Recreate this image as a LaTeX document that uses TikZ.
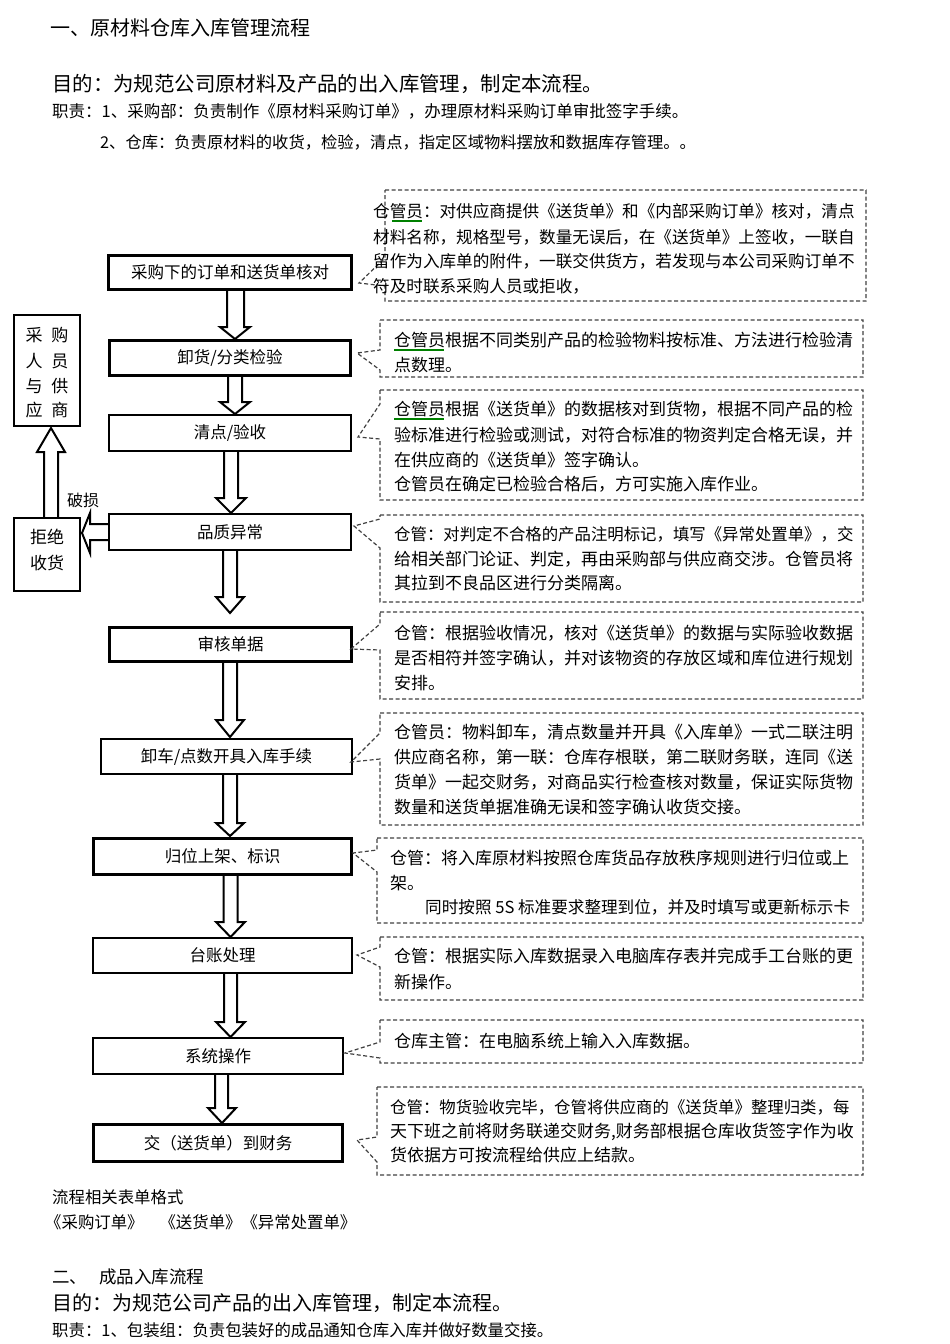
\documentclass[tikz,border=0pt]{standalone}
\usepackage{fontspec}
\setmainfont{Noto Sans CJK SC}
\tikzset{
  fbox/.style={draw, line width=#1, inner sep=0pt, font=\fontsize{16.5}{20}\selectfont},
  harrow/.style={draw, line width=2pt, line join=miter},
  dbox/.style={draw=black!75, line width=1.2pt, dash pattern=on 4pt off 2.5pt},
  txt/.style={anchor=base west, inner sep=0pt, font=\fontsize{#1}{#1}\selectfont, yshift={-0.38*#1}},
  ctxt/.style={anchor=base, inner sep=0pt, font=\fontsize{#1}{#1}\selectfont, yshift={-0.38*#1}},
  wavy/.style={draw=green!50!black, line width=1.2pt}
}
\newcommand{\callout}[8]{%
  \coordinate (#1) at (#7);
  \draw[dbox] (#2,#4) -- (#3,#4) -- (#3,#5) -- (#2,#5) -- (#2,#8) -- (#1) -- (#2,#6) -- cycle;}
\begin{document}
\begin{tikzpicture}[x=1pt,y=-1pt]
\useasboundingbox (0,0) rectangle (950,1344);

% headings
\node[txt=20] (h1) at (50,28) {一、原材料仓库入库管理流程};
\node[txt=20.4] (h2) at (52,84) {目的：为规范公司原材料及产品的出入库管理，制定本流程。};
\node[txt=16.5] (h3) at (52,111) {职责：1、采购部：负责制作《原材料采购订单》，办理原材料采购订单审批签字手续。};
\node[txt=16.3] (h4) at (100,142) {2、仓库：负责原材料的收货，检验，清点，指定区域物料摆放和数据库存管理。。};

% flow boxes
\node[fbox=2.8pt, minimum width=243pt, minimum height=34pt] (b1) at (230,272.5) {采购下的订单和送货单核对};
\node[fbox=2.8pt, minimum width=241pt, minimum height=35pt] (b2) at (230,358) {卸货/分类检验};
\node[fbox=2pt, minimum width=242pt, minimum height=36pt] (b3) at (230,433) {清点/验收};
\node[fbox=2.4pt, minimum width=241.6pt, minimum height=35.6pt] (b4) at (230,532) {品质异常};
\node[fbox=2.8pt, minimum width=242pt, minimum height=34pt] (b5) at (230.5,644.5) {审核单据};
\node[fbox=2pt, minimum width=251pt, minimum height=35pt] (b6) at (226.5,756.5) {卸车/点数开具入库手续};
\node[fbox=2.8pt, minimum width=258pt, minimum height=36pt] (b7) at (222.5,856.5) {归位上架、标识};
\node[fbox=2pt, minimum width=259pt, minimum height=35pt] (b8) at (222.5,955.5) {台账处理};
\node[fbox=2.4pt, minimum width=249.6pt, minimum height=35.6pt] (b9) at (218,1056) {系统操作};
\node[fbox=2.8pt, minimum width=249pt, minimum height=37pt] (b10) at (218,1143) {交（送货单）到财务};

% left boxes
\node[draw, line width=2pt, minimum width=66pt, minimum height=111pt, inner sep=0pt] (pur) at (47,370.5) {};
\node[ctxt=17] (pur1) at (47,335) {采\hspace{9pt}购};
\node[ctxt=17] (pur2) at (47,361) {人\hspace{9pt}员};
\node[ctxt=17] (pur3) at (47,386) {与\hspace{9pt}供};
\node[ctxt=17] (pur4) at (47,410) {应\hspace{9pt}商};
\node[draw, line width=2pt, minimum width=66pt, minimum height=73pt, inner sep=0pt] (rej) at (47,554.5) {};
\node[ctxt=17] (rej1) at (47,537) {拒绝};
\node[ctxt=17] (rej2) at (47,563) {收货};
\node[ctxt=16] (po) at (83,500) {破损};

% hollow arrows
\draw[harrow] (227,0 |- b1.south) -- (227,327) -- (220,327) -- (235,339) -- (250,327) -- (244,327) -- (244,0 |- b1.south);
\draw[harrow] (228,0 |- b2.south) -- (228,402) -- (220,402) -- (235,414) -- (250,402) -- (242,402) -- (242,0 |- b2.south);
\draw[harrow] (224,0 |- b3.south) -- (224,498) -- (216,498) -- (231,513) -- (246,498) -- (238,498) -- (238,0 |- b3.south);
\draw[harrow] (223,0 |- b4.south) -- (223,597) -- (216,597) -- (230,613) -- (244,597) -- (237,597) -- (237,0 |- b4.south);
\draw[harrow] (223,0 |- b5.south) -- (223,720) -- (216,720) -- (230,737) -- (244,720) -- (237,720) -- (237,0 |- b5.south);
\draw[harrow] (223,0 |- b6.south) -- (223,823) -- (216,823) -- (230,836) -- (244,823) -- (237,823) -- (237,0 |- b6.south);
\draw[harrow] (223.5,0 |- b7.south) -- (223.5,922) -- (216,922) -- (230.5,937) -- (245,922) -- (237.5,922) -- (237.5,0 |- b7.south);
\draw[harrow] (224,0 |- b8.south) -- (224,1022) -- (216,1022) -- (230.5,1037) -- (245,1022) -- (237,1022) -- (237,0 |- b8.south);
\draw[harrow] (215,0 |- b9.south) -- (215,1108) -- (208,1108) -- (222,1123) -- (236,1108) -- (228,1108) -- (228,0 |- b9.south);
\draw[harrow] (44,0 |- rej.north) -- (44,452) -- (37,452) -- (51,428) -- (65,452) -- (58,452) -- (58,0 |- rej.north);
\draw[harrow] (b4.west |- 0,524) -- (90,524) -- (90,513) -- (82,533) -- (90,553) -- (90,540) -- (b4.west |- 0,540);

% callouts
\callout{t1}{385}{866}{190}{301}{258}{359,283}{286}
\callout{t2}{380}{863}{320}{377}{350}{357,353}{370}
\callout{t3}{380}{863}{390}{500}{404}{358,437}{439}
\callout{t4}{380}{863}{515}{602}{519}{354,526}{548}
\callout{t5}{380}{863}{612}{699}{624}{351,649}{650}
\callout{t6}{380}{863}{713}{825}{733}{351,762}{759}
\callout{t7}{377}{863}{838}{923}{850}{353,853}{872}
\callout{t8}{380}{863}{937}{1000}{947}{357,955}{967}
\callout{t9}{380}{863}{1020}{1063}{1042}{345,1053}{1058}
\callout{t10}{377}{863}{1087}{1175}{1137}{357,1140}{1162}

% callout texts
\node[txt=16.6] (d1a) at (373,211) {仓管员：对供应商提供《送货单》和《内部采购订单》核对，清点};
\node[txt=16.6] (d1b) at (373,237) {材料名称，规格型号，数量无误后，在《送货单》上签收，一联自};
\node[txt=16.6] (d1c) at (373,261) {留作为入库单的附件，一联交供货方，若发现与本公司采购订单不};
\node[txt=16.6] (d1d) at (373,286) {符及时联系采购人员或拒收，};
\draw[wavy] (392,221) -- (422,221);

\node[txt=17] (d2a) at (394,340) {仓管员根据不同类别产品的检验物料按标准、方法进行检验清};
\node[txt=17] (d2b) at (394,365) {点数理。};
\draw[wavy] (394,350) -- (444,350);

\node[txt=17] (d3a) at (394,409) {仓管员根据《送货单》的数据核对到货物，根据不同产品的检};
\node[txt=17] (d3b) at (394,435) {验标准进行检验或测试，对符合标准的物资判定合格无误，并};
\node[txt=17] (d3c) at (394,460) {在供应商的《送货单》签字确认。};
\node[txt=17] (d3d) at (394,484) {仓管员在确定已检验合格后，方可实施入库作业。};
\draw[wavy] (394,419) -- (444,419);

\node[txt=16.4] (d4a) at (394,534) {仓管：对判定不合格的产品注明标记，填写《异常处置单》，交};
\node[txt=17] (d4b) at (394,559) {给相关部门论证、判定，再由采购部与供应商交涉。仓管员将};
\node[txt=17] (d4c) at (394,583) {其拉到不良品区进行分类隔离。};

\node[txt=17] (d5a) at (394,633) {仓管：根据验收情况，核对《送货单》的数据与实际验收数据};
\node[txt=17] (d5b) at (394,658) {是否相符并签字确认，并对该物资的存放区域和库位进行规划};
\node[txt=17] (d5c) at (394,683) {安排。};

\node[txt=17] (d6a) at (394,732) {仓管员：物料卸车，清点数量并开具《入库单》一式二联注明};
\node[txt=17] (d6b) at (394,757) {供应商名称，第一联：仓库存根联，第二联财务联，连同《送};
\node[txt=17] (d6c) at (394,782) {货单》一起交财务，对商品实行检查核对数量，保证实际货物};
\node[txt=17] (d6d) at (394,807) {数量和送货单据准确无误和签字确认收货交接。};

\node[txt=17] (d7a) at (390,858) {仓管：将入库原材料按照仓库货品存放秩序规则进行归位或上};
\node[txt=17] (d7b) at (390,883) {架。};
\node[txt=16.6] (d7c) at (425,907) {同时按照 5S 标准要求整理到位，并及时填写或更新标示卡};

\node[txt=17] (d8a) at (394,956) {仓管：根据实际入库数据录入电脑库存表并完成手工台账的更};
\node[txt=17] (d8b) at (394,982) {新操作。};

\node[txt=17] (d9a) at (394,1041) {仓库主管：在电脑系统上输入入库数据。};

\node[txt=16.4] (d10a) at (390,1107) {仓管：物货验收完毕，仓管将供应商的《送货单》整理归类，每};
\node[txt=17] (d10b) at (390,1131) {天下班之前将财务联递交财务,财务部根据仓库收货签字作为收};
\node[txt=17] (d10c) at (390,1155) {货依据方可按流程给供应上结款。};

% footer
\node[txt=16.4] (f1) at (52,1197) {流程相关表单格式};
\node[txt=16.4] (f2) at (45,1222) {《采购订单》\hspace{16pt}《送货单》《异常处置单》};
\node[txt=17.5] (f3) at (52,1277) {二、\hspace{12pt}成品入库流程};
\node[txt=20] (f4) at (52,1303) {目的：为规范公司产品的出入库管理，制定本流程。};
\node[txt=16.4] (f5) at (52,1330) {职责：1、包装组：负责包装好的成品通知仓库入库并做好数量交接。};
\end{tikzpicture}
\end{document}
